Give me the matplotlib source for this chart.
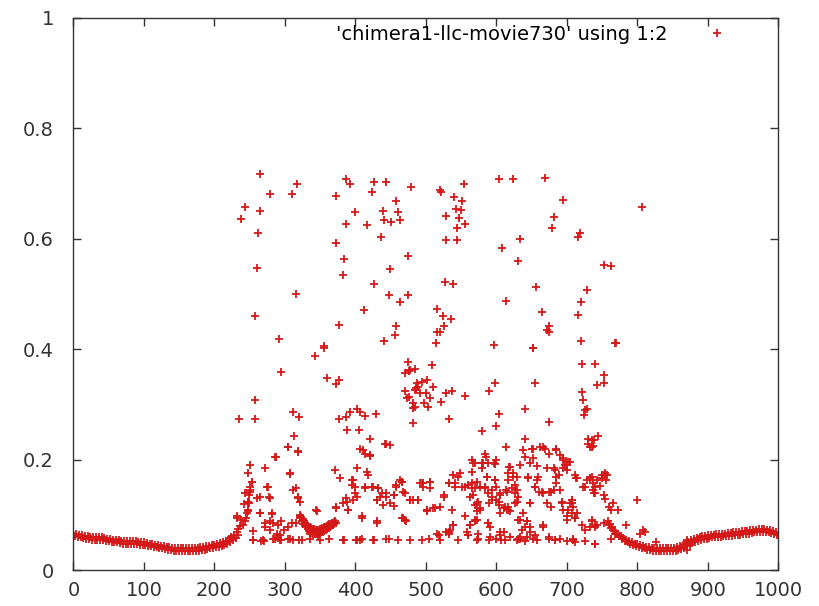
import matplotlib
matplotlib.use("Agg")
import matplotlib.pyplot as plt
import numpy as np

# smooth (coherent) parts, one value every 2 indices
left_start, left_step = 0, 2
left_band_y = [0.066, 0.061, 0.065, 0.060, 0.064, 0.059, 0.063, 0.058, 0.062, 0.057,
               0.061, 0.056, 0.060, 0.055, 0.060, 0.055, 0.060, 0.055, 0.060, 0.055,
               0.059, 0.054, 0.058, 0.053, 0.057, 0.052, 0.056, 0.051, 0.055, 0.050,
               0.055, 0.050, 0.054, 0.049, 0.053, 0.048, 0.053, 0.048, 0.052, 0.047,
               0.052, 0.047, 0.052, 0.047, 0.052, 0.047, 0.051, 0.046, 0.051, 0.046,
               0.050, 0.045, 0.049, 0.044, 0.048, 0.043, 0.047, 0.042, 0.046, 0.041,
               0.045, 0.040, 0.044, 0.039, 0.043, 0.038, 0.042, 0.037, 0.041, 0.036,
               0.040, 0.035, 0.040, 0.035, 0.039, 0.034, 0.039, 0.034, 0.039, 0.034,
               0.039, 0.034, 0.039, 0.034, 0.039, 0.034, 0.040, 0.035, 0.040, 0.035,
               0.041, 0.036, 0.042, 0.037, 0.043, 0.038, 0.044, 0.039, 0.045, 0.040,
               0.046, 0.041, 0.047, 0.042, 0.049, 0.044, 0.051, 0.046, 0.053, 0.048,
               0.056, 0.051, 0.059, 0.054, 0.063, 0.058, 0.068, 0.064]

right_start, right_step = 764, 2
right_band_y = [0.077, 0.072, 0.071, 0.066, 0.066, 0.061, 0.062, 0.057, 0.058, 0.053,
                0.055, 0.050, 0.052, 0.047, 0.050, 0.045, 0.048, 0.043, 0.047, 0.042,
                0.045, 0.040, 0.044, 0.039, 0.042, 0.037, 0.041, 0.036, 0.040, 0.035,
                0.040, 0.035, 0.039, 0.034, 0.039, 0.034, 0.039, 0.034, 0.039, 0.034,
                0.039, 0.034, 0.039, 0.034, 0.040, 0.035, 0.041, 0.036, 0.043, 0.038,
                0.045, 0.040, 0.048, 0.043, 0.051, 0.046, 0.054, 0.049, 0.056, 0.051,
                0.058, 0.053, 0.060, 0.055, 0.061, 0.056, 0.062, 0.057, 0.063, 0.058,
                0.064, 0.059, 0.064, 0.059, 0.065, 0.060, 0.065, 0.060, 0.066, 0.061,
                0.066, 0.061, 0.067, 0.062, 0.067, 0.062, 0.068, 0.063, 0.068, 0.063,
                0.069, 0.064, 0.070, 0.065, 0.071, 0.066, 0.071, 0.066, 0.072, 0.067,
                0.073, 0.068, 0.073, 0.068, 0.074, 0.069, 0.074, 0.069, 0.074, 0.069,
                0.073, 0.068, 0.072, 0.067, 0.070, 0.065, 0.068, 0.063]

# little coherent curl near index 320-372
curl_start, curl_step = 321, 2
curl_y = [0.100, 0.096, 0.092, 0.089, 0.086, 0.083, 0.080, 0.078, 0.076, 0.075,
          0.074, 0.073, 0.072, 0.073, 0.074, 0.075, 0.076, 0.077, 0.078, 0.080,
          0.081, 0.083, 0.084, 0.085, 0.087, 0.088]
curl2_y = [0.094, 0.089, 0.084, 0.080, 0.077, 0.074, 0.071, 0.069, 0.067, 0.066,
           0.066, 0.065, 0.065, 0.066, 0.067, 0.068, 0.069, 0.070, 0.072, 0.074,
           0.076, 0.078, 0.079, 0.081, 0.083, 0.085]

# incoherent part, (index, value)
upper_pts = [(264,0.717),(317,0.699),(279,0.681),(310,0.681),(243,0.658),(264,0.651),(238,0.636),
             (262,0.611),(260,0.547),(315,0.500),(257,0.460),(292,0.418),(355,0.405),(386,0.708),
             (392,0.699),(426,0.702),(443,0.702),(479,0.694),(373,0.678),(423,0.684),(458,0.669),
             (399,0.649),(439,0.650),(461,0.648),(440,0.634),(451,0.631),(463,0.634),(387,0.627),
             (417,0.625),(436,0.603),(372,0.593),(475,0.569),(384,0.563),(449,0.545),(382,0.534),
             (426,0.519),(448,0.498),(463,0.485),(474,0.498),(412,0.471),(377,0.444),(458,0.442),
             (456,0.426),(441,0.414),(520,0.688),(522,0.685),(554,0.699),(604,0.708),(623,0.708),
             (669,0.711),(540,0.676),(551,0.669),(543,0.654),(550,0.653),(528,0.642),(547,0.637),
             (556,0.627),(544,0.619),(695,0.670),(681,0.640),(679,0.619),(718,0.611),(716,0.603),
             (529,0.597),(544,0.597),(634,0.599),(608,0.584),(630,0.560),(527,0.522),(539,0.519),
             (656,0.512),(728,0.507),(614,0.488),(720,0.486),(516,0.473),(664,0.468),(524,0.461),
             (535,0.454),(716,0.462),(525,0.442),(515,0.432),(520,0.432),(674,0.442),(671,0.435),
             (675,0.432),(514,0.412),(597,0.408),(652,0.403),(720,0.415),(807,0.658),(753,0.553),
             (763,0.550),(768,0.412)]

middle_pts = [(356,0.402),(343,0.388),(295,0.358),(359,0.347),(377,0.344),(373,0.337),(474,0.377),
              (470,0.356),(477,0.362),(470,0.325),(486,0.329),(482,0.302),(476,0.314),(481,0.266),
              (257,0.308),(235,0.273),(257,0.274),(312,0.287),(320,0.278),(376,0.274),(387,0.277),
              (392,0.287),(402,0.291),(406,0.287),(414,0.279),(429,0.283),(388,0.254),(405,0.254),
              (313,0.243),(420,0.237),(305,0.222),(319,0.216),(406,0.219),(414,0.211),(421,0.207),
              (442,0.228),(449,0.226),(652,0.402),(509,0.371),(721,0.373),(740,0.373),(476,0.360),
              (485,0.365),(484,0.326),(489,0.332),(494,0.341),(501,0.344),(510,0.332),(500,0.320),
              (506,0.311),(484,0.296),(497,0.302),(503,0.296),(473,0.311),(492,0.320),(487,0.338),
              (482,0.293),(598,0.338),(590,0.325),(655,0.338),(537,0.325),(529,0.320),(555,0.315),
              (521,0.304),(721,0.323),(723,0.308),(742,0.335),(640,0.292),(604,0.283),(726,0.290),
              (724,0.280),(533,0.273),(600,0.261),(674,0.269),(580,0.252),(640,0.237),(614,0.222),
              (730,0.228),(735,0.222),(738,0.235),(770,0.411),(752,0.353),(753,0.338),(729,0.291),
              (730,0.237),(735,0.236),(744,0.243),(733,0.223),(737,0.225)]

lower_pts = [(287,0.205),(272,0.184),(307,0.174),(371,0.182),(378,0.166),(402,0.184),(416,0.178),
             (418,0.172),(253,0.160),(275,0.151),(316,0.148),(251,0.145),(397,0.163),(395,0.154),
             (399,0.139),(463,0.163),(458,0.154),(414,0.151),(425,0.151),(432,0.148),(444,0.139),
             (454,0.136),(435,0.133),(319,0.133),(264,0.133),(278,0.133),(249,0.122),(387,0.130),
             (383,0.121),(402,0.133),(482,0.127),(431,0.127),(439,0.118),(454,0.116),(248,0.109),
             (373,0.115),(390,0.109),(345,0.106),(264,0.103),(281,0.101),(232,0.097),(243,0.088),
             (409,0.095),(430,0.086),(467,0.094),(472,0.089),(272,0.086),(283,0.085),(290,0.082),
             (315,0.085),(255,0.071),(254,0.054),(266,0.053),(270,0.052),(290,0.058),(295,0.054),
             (305,0.056),(312,0.054),(320,0.054),(336,0.066),(384,0.054),(401,0.054),(407,0.055),
             (426,0.054),(447,0.056),
             (241,0.082),(246,0.103),(248,0.124),(250,0.151),(247,0.175),(250,0.190),(244,0.140),
             (242,0.120),(238,0.090),(236,0.080),(234,0.075),(245,0.095),(249,0.135),
             (584,0.211),(585,0.205),(565,0.199),(570,0.193),(579,0.193),(588,0.194),(598,0.192),
             (600,0.199),(580,0.184),(618,0.187),(624,0.175),(629,0.169),(626,0.154),(617,0.163),
             (638,0.217),(640,0.205),(650,0.220),(652,0.202),(662,0.223),(669,0.220),(674,0.211),
             (685,0.217),(690,0.208),(694,0.199),(697,0.190),(702,0.196),(695,0.184),(700,0.181),
             (681,0.184),(688,0.172),(685,0.157),(681,0.145),(674,0.142),(666,0.139),(661,0.142),
             (655,0.151),(657,0.163),(645,0.169),(711,0.172),(713,0.166),(728,0.163),(735,0.169),
             (740,0.151),(726,0.151),(742,0.163),(707,0.127),(704,0.121),(709,0.115),(707,0.103),
             (700,0.097),(711,0.094),(693,0.121),(695,0.109),(735,0.088),(740,0.082),(733,0.078),
             (711,0.051),(709,0.057),(740,0.048),(721,0.082),(726,0.072),(643,0.088),(640,0.078),
             (636,0.072),(648,0.069),(643,0.060),(633,0.057),(629,0.054),(655,0.063),(657,0.054),
             (666,0.082),(674,0.057),(683,0.054),(605,0.063),(610,0.069),(600,0.057),(619,0.060),
             (631,0.057),(588,0.085),(591,0.078),(574,0.066),(572,0.054),(560,0.063),(558,0.069),
             (562,0.082),(570,0.088),(572,0.091),(539,0.082),(532,0.066),(515,0.066),(555,0.097),
             (534,0.072),(529,0.069),(576,0.112),(572,0.106),(570,0.118),(574,0.124),(610,0.112),
             (615,0.109),(619,0.106),(617,0.115),(603,0.118),(605,0.103),(600,0.127),(593,0.133),
             (590,0.121),(626,0.121),(631,0.133),(629,0.145),(622,0.148),(615,0.142),(605,0.139),
             (648,0.121),(638,0.103),(633,0.091),(671,0.121),(678,0.115),(586,0.169),(572,0.160),
             (560,0.154),(551,0.151),(565,0.148),(577,0.151),(584,0.148),(588,0.139),(593,0.145),
             (598,0.163),(600,0.151),(562,0.133),(567,0.136),(539,0.172),(546,0.169),(532,0.157),
             (541,0.151),(525,0.136),(520,0.115),(510,0.112),(501,0.106),(489,0.127),(477,0.127),
             (470,0.139),(466,0.160),(470,0.091),(492,0.157),(496,0.151),(506,0.160),
             (753,0.172),(757,0.172),(749,0.166),(733,0.166),(747,0.152),(738,0.139),(752,0.136),
             (754,0.128),(759,0.115),(763,0.109),(773,0.109),(766,0.121),(800,0.127),(742,0.082),
             (784,0.082),(808,0.072),(811,0.069),(804,0.066),(827,0.051),(870,0.054),(870,0.036),
             (763,0.056),(758,0.088),(761,0.083),
             (350,0.055),(362,0.056),(460,0.054),(478,0.055),(495,0.054),(505,0.057),(520,0.055),
             (545,0.054),(590,0.054),(612,0.055),(640,0.053),(690,0.056),(700,0.053),(725,0.053)]

extra_pts = [(652,0.220),(666,0.223),(685,0.220),(695,0.202),(700,0.190),(704,0.196),
             (567,0.193),(581,0.193),(596,0.193),(619,0.187),(633,0.190),(648,0.193),(657,0.188),
             (548,0.175),(565,0.178),(586,0.169),(598,0.163),(617,0.175),(624,0.169),(645,0.166),
             (659,0.169),(671,0.184),(683,0.181),(685,0.169),(714,0.166),(733,0.166),(737,0.157),
             (749,0.172),(754,0.175),(756,0.163),(496,0.157),(506,0.160),(506,0.148),(532,0.157),
             (541,0.157),(555,0.151),(565,0.157),(570,0.148),(584,0.151),(614,0.145),(626,0.139),
             (605,0.136),(655,0.151),(664,0.142),(678,0.142),(690,0.145),(707,0.127),(723,0.151),
             (737,0.145),(740,0.139),(525,0.133),(537,0.109),(501,0.109),(513,0.112),(572,0.121),
             (577,0.109),(593,0.127),(603,0.124),(612,0.115),(617,0.109),(629,0.124),(648,0.121),
             (693,0.124),(707,0.121),(702,0.109),(714,0.103),(570,0.091),(562,0.082),(539,0.082),
             (532,0.069),(518,0.063),(560,0.063),(574,0.057),(588,0.085),(591,0.060),(605,0.069),
             (607,0.054),(631,0.091),(643,0.088),(648,0.078),(633,0.060),(652,0.057),(666,0.078),
             (674,0.060),(683,0.054),(700,0.091),(711,0.094),(735,0.091),(740,0.078),(752,0.085),
             (759,0.082),(763,0.076),(768,0.066),(709,0.054),(740,0.048),
             (305,0.223),(319,0.214),(286,0.205),(307,0.175),(411,0.217),(421,0.208),(444,0.228),
             (253,0.160),(250,0.142),(276,0.151),(312,0.145),(319,0.130),(321,0.124),(260,0.130),
             (279,0.130),(248,0.124),(248,0.106),(232,0.094),(265,0.103),(281,0.103),(279,0.088),
             (295,0.088),(310,0.085),(321,0.097),(344,0.109),(373,0.112),(388,0.124),(390,0.109),
             (397,0.127),(395,0.163),(399,0.151),(409,0.097),(430,0.088),(414,0.148),(423,0.151),
             (432,0.148),(430,0.127),(437,0.139),(444,0.133),(449,0.121),(454,0.136),(458,0.151),
             (466,0.160),(468,0.142),(466,0.094),(470,0.091),(477,0.127),(489,0.127),(494,0.157),
             (501,0.109),(383,0.054),(402,0.054),(409,0.057),(425,0.054),(444,0.057),(269,0.054),
             (255,0.054),(283,0.057),(293,0.063),(307,0.057),(324,0.054),(336,0.056),(347,0.063),
             (272,0.078),(279,0.072),(288,0.066),(298,0.072),(305,0.078),(286,0.057),(293,0.054)]

label = "'chimera1-llc-movie730' using 1:2"

xs = list(left_start + left_step * np.arange(len(left_band_y)))
ys = list(left_band_y)
xs += list(curl_start + curl_step * np.arange(len(curl_y)))
ys += list(curl_y)
xs += list(curl_start + 1 + curl_step * np.arange(len(curl2_y)))
ys += list(curl2_y)
for pts in (upper_pts, middle_pts, lower_pts, extra_pts):
    xs += [p[0] for p in pts]
    ys += [p[1] for p in pts]
xs += list(right_start + right_step * np.arange(len(right_band_y)))
ys += list(right_band_y)

fig = plt.figure(figsize=(8.19, 6.06), dpi=100)
ax = fig.add_axes([0.0897, 0.0594, 0.8608, 0.9109])
ax.plot(xs, ys, '+', color='#d41818', ms=6, mew=1.3, label=label)

ax.set_xlim(0, 1000)
ax.set_ylim(0, 1)
ax.set_xticks(np.arange(0, 1001, 100))
ax.set_yticks([0, 0.2, 0.4, 0.6, 0.8, 1])
ax.set_yticklabels(['0', '0.2', '0.4', '0.6', '0.8', '1'])
ax.tick_params(direction='in', length=6, width=1, top=True, right=True,
               labelsize=14, labelcolor='#333333', color='#333333')
ax.tick_params(axis='x', pad=8)
ax.tick_params(axis='y', pad=14)
for s in ax.spines.values():
    s.set_color('#333333')
    s.set_linewidth(1)

ax.legend(loc='upper right', bbox_to_anchor=(0.941, 0.987), borderaxespad=0,
          borderpad=0, frameon=False, markerfirst=False, fontsize=14,
          handlelength=2, handletextpad=1.58)

fig.savefig('out.png', dpi=100)
